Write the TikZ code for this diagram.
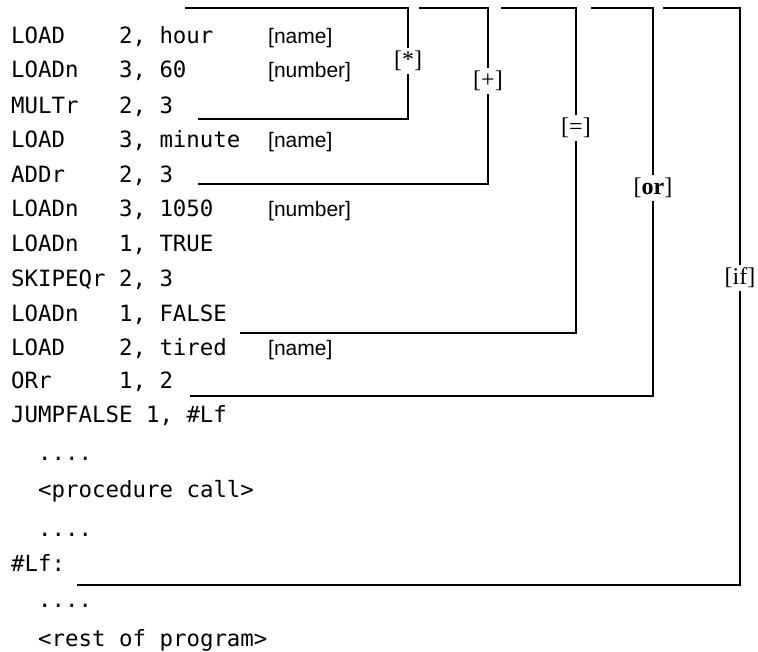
\documentclass[tikz,border=0pt]{standalone}
\usepackage{fontspec}
\setmainfont{Liberation Serif}
\setsansfont{Liberation Sans}
\setmonofont{DejaVu Sans Mono}
\usetikzlibrary{positioning}

% operand column of the listing (8 characters)
\newcommand{\op}[1]{\makebox[4.816em][l]{#1}}

\begin{document}
\begin{tikzpicture}[x=1pt,y=-1pt,
  code/.style={anchor=base west,inner sep=0pt,font=\fontsize{22.4}{24}\ttfamily},
  note/.style={anchor=base west,inner sep=0pt,font=\fontsize{21}{23}\sffamily},
  tag/.style={fill=white,inner sep=3pt,font=\fontsize{24}{26}\rmfamily},
  wire/.style={line width=1.8pt}]

\useasboundingbox (0,0) rectangle (758,651);

% listing
\node[code] (l1)  at (11,43)    {\op{LOAD}2, hour};
\node[code] (l2)  at (11,77.5)  {\op{LOADn}3, 60};
\node[code] (l3)  at (11,113)   {\op{MULTr}2, 3};
\node[code] (l4)  at (11,147)   {\op{LOAD}3, minute};
\node[code] (l5)  at (11,182)   {\op{ADDr}2, 3};
\node[code] (l6)  at (11,216)   {\op{LOADn}3, 1050};
\node[code] (l7)  at (11,251)   {\op{LOADn}1, TRUE};
\node[code] (l8)  at (11,286)   {\op{SKIPEQr}2, 3};
\node[code] (l9)  at (11,321)   {\op{LOADn}1, FALSE};
\node[code] (l10) at (11,355)   {\op{LOAD}2, tired};
\node[code] (l11) at (11,388)   {\op{ORr}1, 2};
\node[code] (l12) at (11,422)   {JUMPFALSE 1, \#Lf};
\node[code] (l13) at (38,460)   {....};
\node[code] (l14) at (38,497)   {<procedure call>};
\node[code] (l15) at (38,536)   {....};
\node[code] (l16) at (11,571)   {\#Lf:};
\node[code] (l17) at (38,607)   {....};
\node[code] (l18) at (38,646)   {<rest of program>};

% kinds of operand
\node[note] (n1)  at (268,43)   {[name]};
\node[note] (n2)  at (268,77.5) {[number]};
\node[note] (n4)  at (268,147)  {[name]};
\node[note] (n6)  at (268,216)  {[number]};
\node[note] (n10) at (268,355)  {[name]};

% brackets
\node[tag] (tmul) at (408,61)  {[*]};
\node[tag] (tadd) at (488,81)  {[+]};
\node[tag] (teq)  at (576,128) {[=]};
\node[tag] (tor)  at (653,188) {[\textbf{or}]};
\node[tag] (tif)  at (740,278) {[if]};

\coordinate (mul0) at (185,8);  \coordinate (mul1) at (198,119);
\coordinate (add0) at (419,8);  \coordinate (add1) at (198,184);
\coordinate (eq0)  at (501,8);  \coordinate (eq1)  at (240,333);
\coordinate (or0)  at (591,8);  \coordinate (or1)  at (190,396);
\coordinate (if0)  at (663,8);  \coordinate (if1)  at (77,585);

\draw[wire] (mul0) -| (tmul);  \draw[wire] (tmul) |- (mul1);
\draw[wire] (add0) -| (tadd);  \draw[wire] (tadd) |- (add1);
\draw[wire] (eq0)  -| (teq);   \draw[wire] (teq)  |- (eq1);
\draw[wire] (or0)  -| (tor);   \draw[wire] (tor)  |- (or1);
\draw[wire] (if0)  -| (tif);   \draw[wire] (tif)  |- (if1);

\end{tikzpicture}
\end{document}
